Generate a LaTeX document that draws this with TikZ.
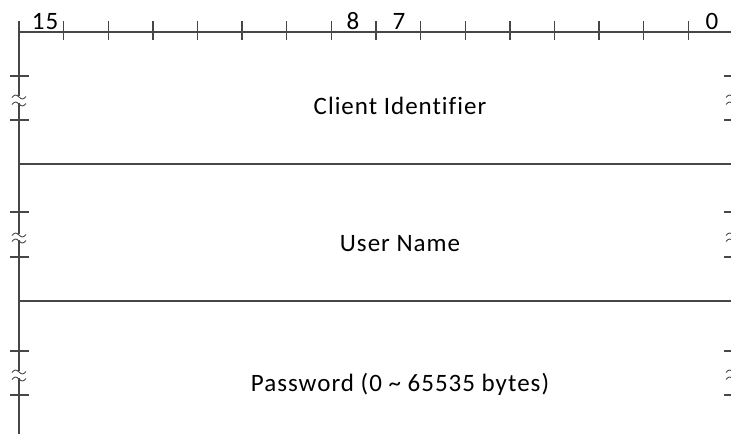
\documentclass[tikz,border=0pt]{standalone}
\usepackage{fontspec}
\setmainfont{Carlito}[LetterSpace=4,Ligatures=NoCommon]
\begin{document}
\begin{tikzpicture}[x=1pt,y=-1pt,
  rule/.style={draw=black!72, line width=1.3pt},
  wave/.style={draw=black!72, line width=0.9pt},
  fieldtext/.style={anchor=base, inner sep=0pt, font=\fontsize{25}{29}\selectfont},
  bittext/.style={anchor=base, inner sep=0pt, font=\fontsize{25}{29}\selectfont}]
\useasboundingbox (0,0) rectangle (731,434);
\clip (0,0) rectangle (731,434);
% top ruler
\draw[rule] (19,32) -- (733,32);
\foreach \i in {1,...,16} \draw[rule] ({19+\i*44.625},21) -- ({19+\i*44.625},40);
% bit labels
\node[bittext] (b15) at (45,29) {15};
\node[bittext] (b8) at (353,29) {8};
\node[bittext] (b7) at (399,29) {7};
\node[bittext] (b0) at (712,29) {0};
% row separators
\draw[rule] (19,164) -- (733,164);
\draw[rule] (19,301) -- (733,301);
% left vertical line with breaks
\draw[rule] (19,21) -- (19,96);
\draw[rule] (19,103) -- (19,234);
\draw[rule] (19,240) -- (19,371);
\draw[rule] (19,378) -- (19,434);
% right vertical line with breaks
\draw[rule] (733,32) -- (733,96);
\draw[rule] (733,103) -- (733,234);
\draw[rule] (733,240) -- (733,371);
\draw[rule] (733,378) -- (733,434);
% break marks
\foreach \xc in {19,733} {
  \foreach \ta/\tb/\wa/\wb in {76/120/96/103, 212/257/234/240, 351/395/371/378} {
    \draw[rule] ({\xc-9},\ta) -- ({\xc+10},\ta);
    \draw[rule] ({\xc-9},\tb) -- ({\xc+10},\tb);
    \draw[wave] ({\xc-7},{\wa+1.5}) sin ({\xc-3.5},{\wa-1}) cos ({\xc},{\wa+1}) sin ({\xc+3.5},{\wa+3}) cos ({\xc+7},{\wa+0.5});
    \draw[wave] ({\xc-7},{\wb+1.5}) sin ({\xc-3.5},{\wb-1}) cos ({\xc},{\wb+1}) sin ({\xc+3.5},{\wb+3}) cos ({\xc+7},{\wb+0.5});
  }
}
% field labels
\node[fieldtext] (cid) at (400,114) {Client Identifier};
\node[fieldtext] (uname) at (400,251) {User Name};
\node[fieldtext] (pwd) at (400,391) {Password (0 \char`\~{} 65535 bytes)};
\end{tikzpicture}
\end{document}
